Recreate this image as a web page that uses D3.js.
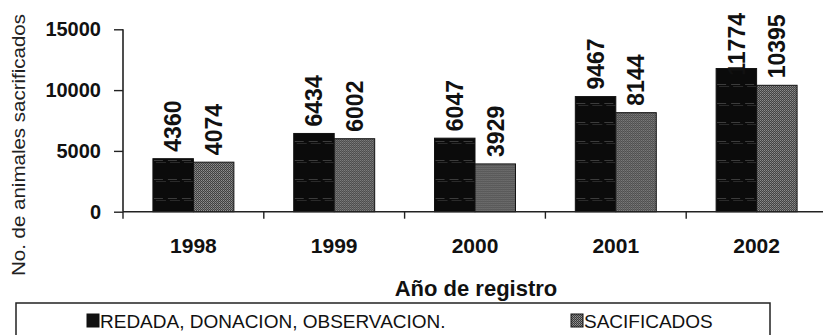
<!DOCTYPE html>
<html>
<head>
<meta charset="utf-8">
<script src="https://cdn.jsdelivr.net/npm/d3@7/dist/d3.min.js"></script>
<style>
  html, body { margin: 0; padding: 0; background: #fff; }
  svg { display: block; font-family: "Liberation Sans", Arial, sans-serif; }
</style>
</head>
<body>
<svg id="chart" width="823" height="335"></svg>
<script>
// Animal records per year
const years = ["1998", "1999", "2000", "2001", "2002"];
const seriesNames = ["REDADA, DONACION, OBSERVACION.", "SACIFICADOS"];
const redada = [4360, 6434, 6047, 9467, 11774];
const sacrificados = [4074, 6002, 3929, 8144, 10395];
const yTicks = [0, 5000, 10000, 15000];
const yTitle = "No. de animales sacrificados";
const xTitle = "Año de registro";

const svg = d3.select("#chart");

// Fill patterns for the two series
const defs = svg.append("defs");
const pDark = defs.append("pattern").attr("id", "pDark")
  .attr("patternUnits", "userSpaceOnUse").attr("width", 14).attr("height", 19);
pDark.append("rect").attr("width", 14).attr("height", 19).attr("fill", "#0b0b0b");
pDark.append("rect").attr("x", 1).attr("y", 8).attr("width", 9).attr("height", 1).attr("fill", "#3c3c3c");
pDark.append("rect").attr("x", 3).attr("y", 10).attr("width", 10).attr("height", 1).attr("fill", "#2a2a2a");

const pGray = defs.append("pattern").attr("id", "pGray")
  .attr("patternUnits", "userSpaceOnUse").attr("width", 2).attr("height", 2);
pGray.append("rect").attr("width", 2).attr("height", 2).attr("fill", "#3a3a3a");
pGray.append("rect").attr("x", 0).attr("y", 0).attr("width", 1).attr("height", 1).attr("fill", "#969696");
pGray.append("rect").attr("x", 1).attr("y", 1).attr("width", 1).attr("height", 1).attr("fill", "#7a7a7a");

const fills = ["url(#pDark)", "url(#pGray)"];

// Plot area
const plotLeft = 123, plotRight = 827, plotTop = 29.3, plotBottom = 211.7;

const x = d3.scaleBand().domain(years).range([plotLeft, plotRight])
  .paddingInner(0.425).paddingOuter(0.2125);
const xs = d3.scaleBand().domain(d3.range(seriesNames.length)).range([0, x.bandwidth()]);
const y = d3.scaleLinear().domain([0, 15000]).range([plotBottom, plotTop]);
const step = x.step();

const data = years.map((yr, i) => ({ year: yr, values: [redada[i], sacrificados[i]] }));

// Bars
const groups = svg.append("g").selectAll("g").data(data).join("g")
  .attr("transform", d => `translate(${x(d.year)},0)`);

groups.selectAll("rect").data(d => d.values).join("rect")
  .attr("x", (v, j) => xs(j))
  .attr("y", v => y(v))
  .attr("width", xs.bandwidth())
  .attr("height", v => plotBottom - y(v))
  .attr("fill", (v, j) => fills[j])
  .attr("stroke", "#111")
  .attr("stroke-width", 1);

// Value labels, rotated, kept inside the top edge of the chart
const labelTopLimit = 13;
groups.selectAll("text.val").data(d => d.values).join("text")
  .attr("class", "val")
  .attr("font-size", 23)
  .attr("font-weight", "bold")
  .attr("fill", "#111")
  .attr("text-anchor", "start")
  .attr("dy", "0.36em")
  .text(v => v)
  .each(function (v, j) {
    const len = this.getComputedTextLength();
    const start = Math.max(y(v) - 7, labelTopLimit + len);
    d3.select(this).attr("transform",
      `translate(${xs(j) + xs.bandwidth() / 2},${start}) rotate(-90)`);
  });

// Axes
const axisColor = "#222";
// x axis line
svg.append("line").attr("x1", plotLeft).attr("x2", plotRight).attr("y1", plotBottom).attr("y2", plotBottom)
  .attr("stroke", axisColor).attr("stroke-width", 1.6);
// category boundary ticks
const bounds = years.map(yr => x(yr) - step * x.paddingInner() / 2).concat([plotRight]);
svg.append("g").selectAll("line").data(bounds).join("line")
  .attr("x1", d => d).attr("x2", d => d)
  .attr("y1", plotBottom).attr("y2", plotBottom + 7)
  .attr("stroke", axisColor).attr("stroke-width", 1.4);

// y axis via d3.axisLeft
const yAxis = svg.append("g").attr("transform", `translate(${plotLeft},0)`)
  .call(d3.axisLeft(y).tickValues(yTicks).tickSize(9).tickPadding(13).tickFormat(d3.format("d")));
yAxis.select(".domain").attr("stroke", axisColor).attr("stroke-width", 1.6)
  .attr("d", `M0,${plotTop}V${plotBottom}`);
yAxis.selectAll(".tick line").attr("stroke", axisColor).attr("stroke-width", 1.4);
yAxis.selectAll(".tick text")
  .attr("font-size", 20).attr("font-weight", "bold").attr("fill", "#111")
  .attr("font-family", "'Liberation Sans', Arial, sans-serif");

// Category labels
svg.append("g").selectAll("text").data(years).join("text")
  .attr("x", d => x(d) + x.bandwidth() / 2)
  .attr("y", 253)
  .attr("text-anchor", "middle")
  .attr("font-size", 21).attr("font-weight", "bold").attr("fill", "#111")
  .text(d => d);

// Axis titles
svg.append("text")
  .attr("x", (plotLeft + plotRight) / 2 + 1).attr("y", 296)
  .attr("text-anchor", "middle")
  .attr("font-size", 22).attr("font-weight", "bold").attr("fill", "#111")
  .text(xTitle);

svg.append("text")
  .attr("transform", `translate(25,145) rotate(-90)`)
  .attr("text-anchor", "middle")
  .attr("font-size", 18).attr("fill", "#222")
  .attr("textLength", 262).attr("lengthAdjust", "spacingAndGlyphs")
  .text(yTitle);

// Legend
svg.append("rect").attr("x", 16).attr("y", 303).attr("width", 754).attr("height", 45)
  .attr("fill", "none").attr("stroke", "#222").attr("stroke-width", 1.5);
const legendX = [87, 571];
const leg = svg.append("g").selectAll("g").data(seriesNames).join("g")
  .attr("transform", (d, i) => `translate(${legendX[i]},0)`);
leg.append("rect").attr("x", 0).attr("y", 314).attr("width", 12).attr("height", 13)
  .attr("fill", (d, i) => i === 0 ? "#111" : fills[1]).attr("stroke", "#111").attr("stroke-width", 1);
leg.append("text").attr("x", 13).attr("y", 327.5)
  .attr("font-size", 19).attr("fill", "#111")
  .text(d => d);
</script>
</body>
</html>
